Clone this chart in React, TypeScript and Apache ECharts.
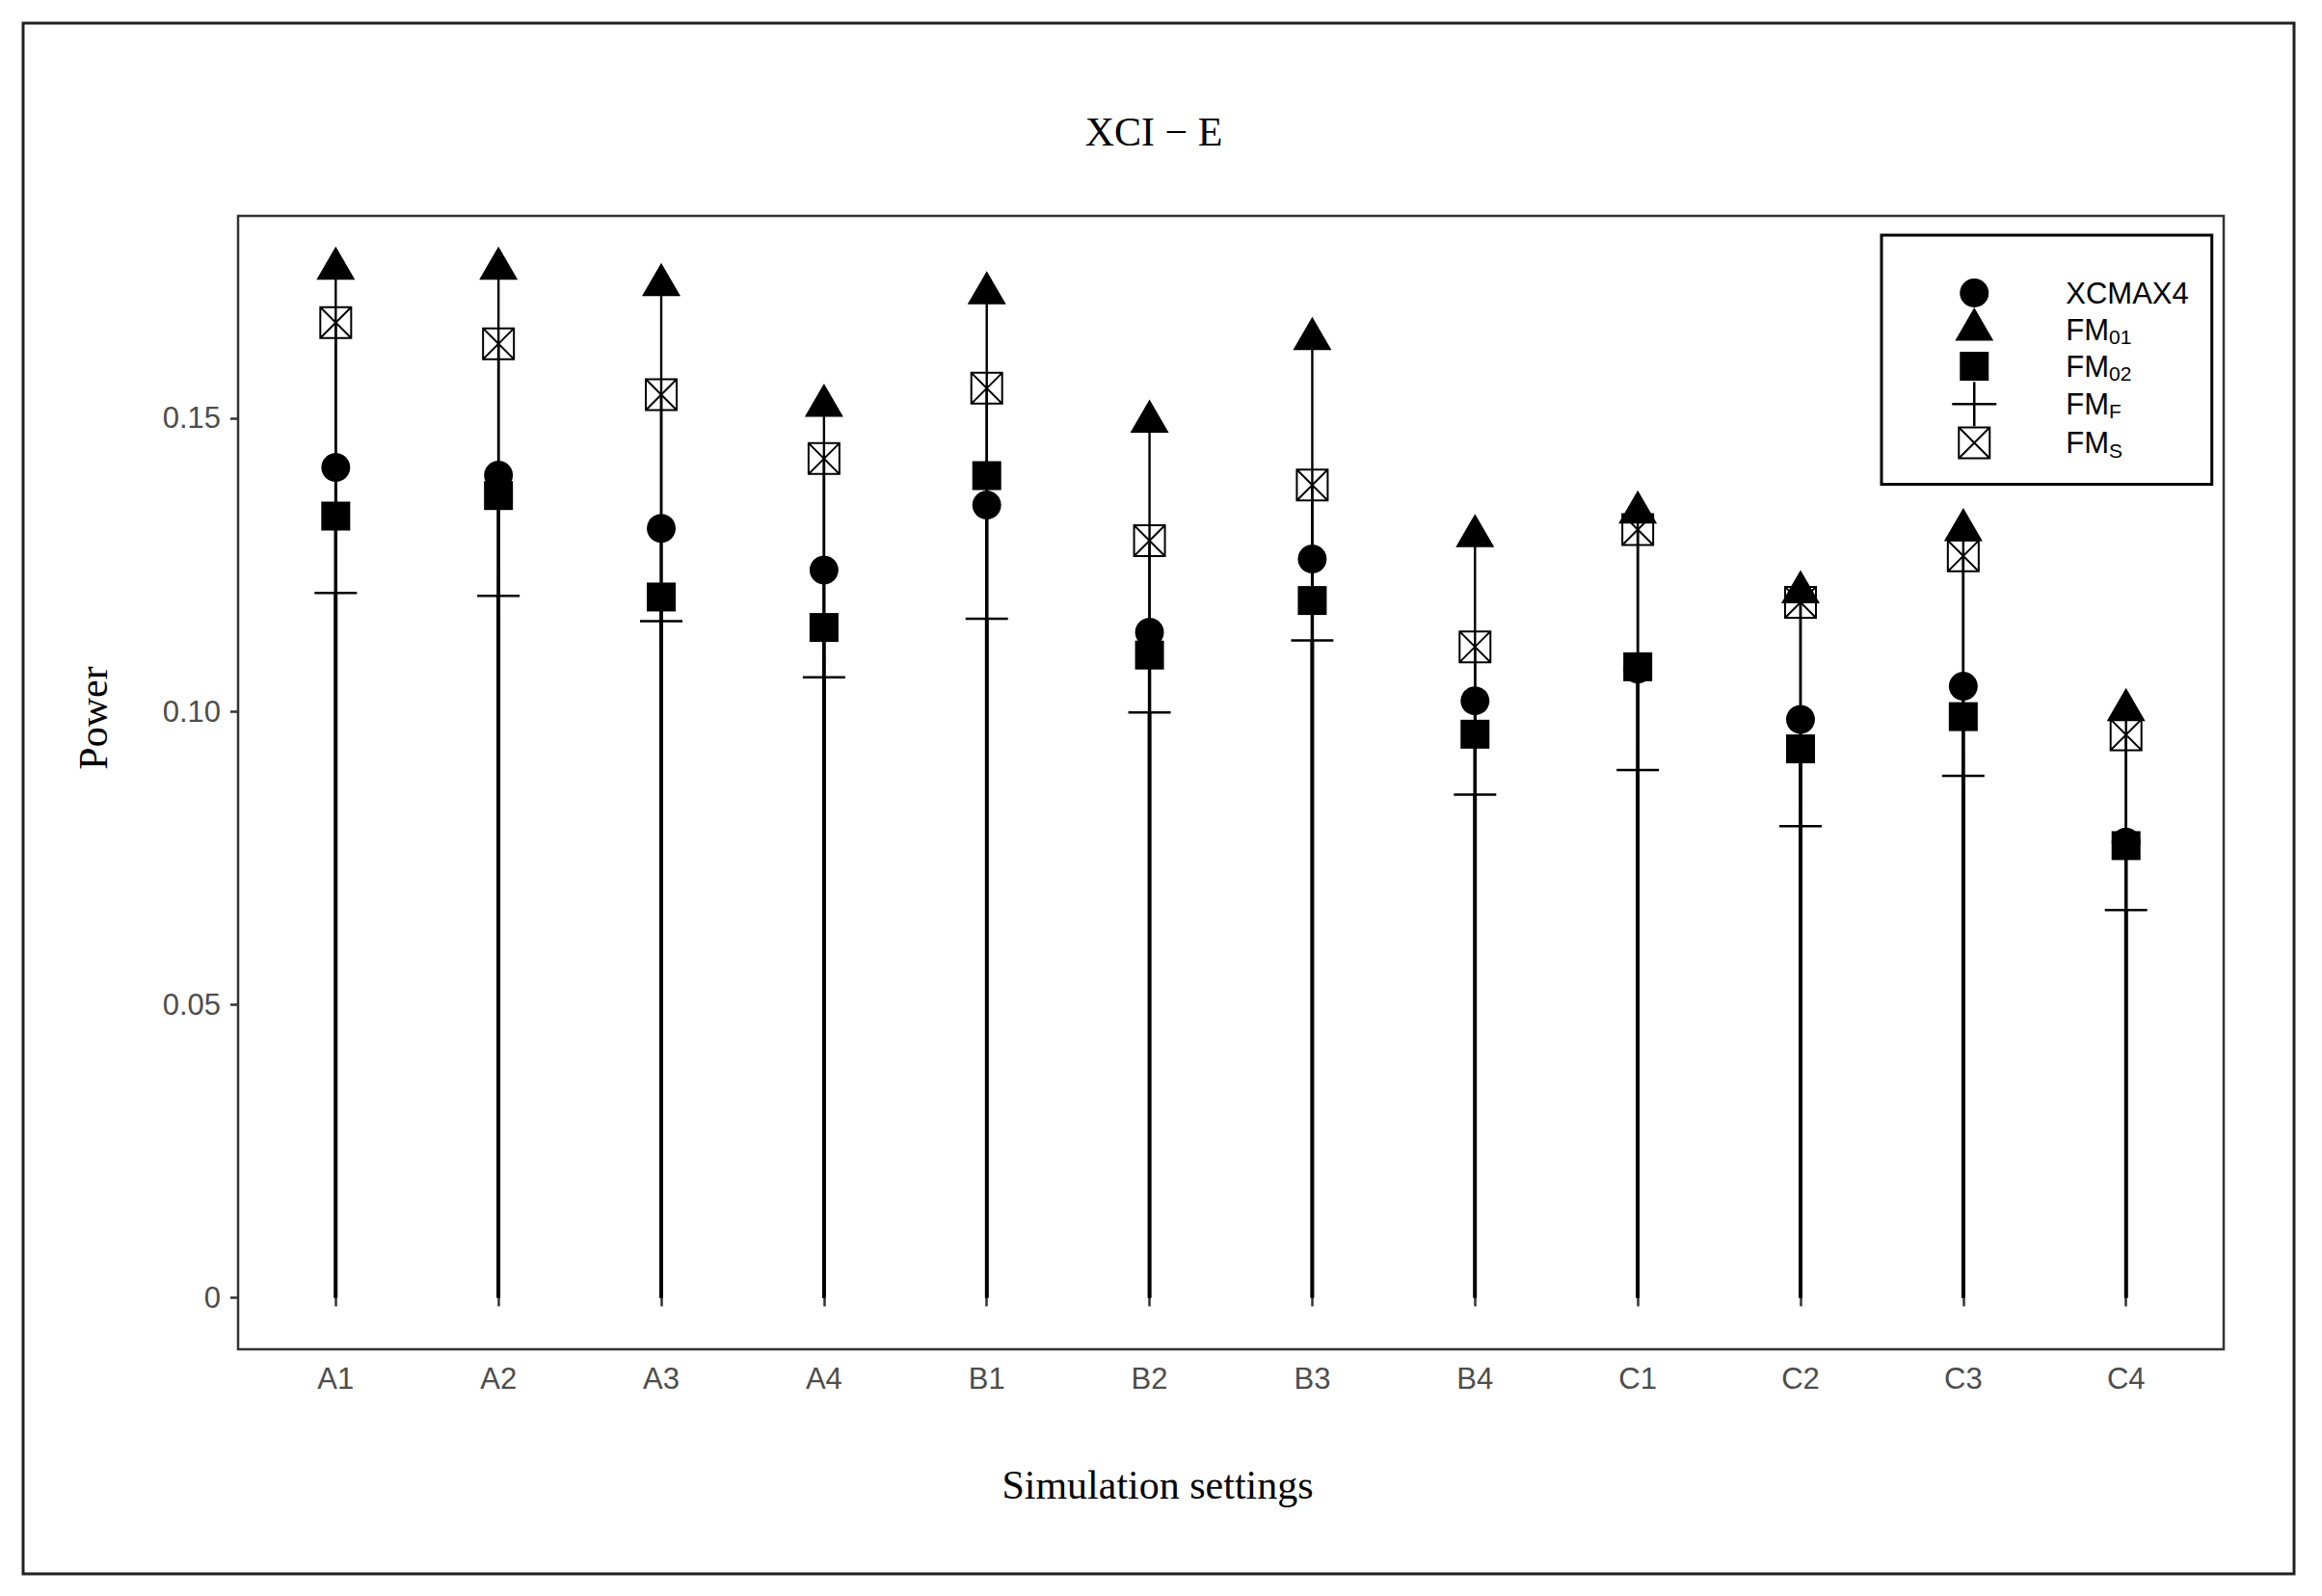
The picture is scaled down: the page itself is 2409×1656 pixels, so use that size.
import React, { useEffect, useRef } from 'react';
import * as echarts from 'echarts';

const categories = ['A1', 'A2', 'A3', 'A4', 'B1', 'B2', 'B3', 'B4', 'C1', 'C2', 'C3', 'C4'];
const xcmax4 = [0.1416, 0.1403, 0.1312, 0.1241, 0.1352, 0.1135, 0.126, 0.1018, 0.1072, 0.0986, 0.1043, 0.0777];
const fm01 = [0.1755, 0.1755, 0.1727, 0.1521, 0.1713, 0.1494, 0.1635, 0.1299, 0.1339, 0.1203, 0.1309, 0.1002];
const fm02 = [0.1333, 0.1368, 0.1195, 0.1143, 0.1402, 0.1096, 0.1189, 0.0961, 0.1076, 0.0936, 0.0991, 0.0771];
const fmF = [0.1202, 0.1197, 0.1154, 0.1058, 0.1158, 0.0998, 0.1121, 0.0858, 0.09, 0.0804, 0.089, 0.0661];
const fmS = [0.1663, 0.1627, 0.154, 0.1431, 0.1551, 0.1291, 0.1386, 0.111, 0.131, 0.1186, 0.1265, 0.096];
const yTicks = [0, 0.05, 0.1, 0.15];
const yTickLabels = ['0', '0.05', '0.10', '0.15'];
const legendLabels: Record<string, string> = {
  XCMAX4: 'XCMAX4',
  FM01: 'FM{sub|01}',
  FM02: 'FM{sub|02}',
  FMF: 'FM{sub|F}',
  FMS: 'FM{sub|S}',
};

const SERIF = '"Liberation Serif", "DejaVu Serif", serif';
const SANS = '"Liberation Sans", Arial, sans-serif';

export default function App() {
  const ref = useRef<HTMLDivElement>(null);
  useEffect(() => {
    const chart = echarts.init(ref.current as HTMLDivElement, null, { renderer: 'svg' });
    const xs = categories.map((_, i) => i + 1);
    const pts = (arr: number[]) => arr.map((v, i) => [xs[i], v]);
    const stem = (name: string, arr: number[], w: number) => ({
      type: 'custom',
      name: name + '_stem',
      coordinateSystem: 'cartesian2d',
      z: 1,
      silent: true,
      data: pts(arr),
      encode: { x: 0, y: 1 },
      renderItem: (_p: any, api: any) => {
        const x = api.value(0);
        const v = api.value(1);
        const p0 = api.coord([x, 0]);
        const p1 = api.coord([x, v]);
        return {
          type: 'line',
          shape: { x1: p0[0], y1: p0[1], x2: p1[0], y2: p1[1] },
          style: { stroke: '#000', lineWidth: w, lineCap: 'butt' },
        };
      },
    });

    const plusPath = 'path://M0 50L100 50M50 0L50 100';
    const boxXPath = 'path://M0 0L100 0L100 100L0 100Z M0 0L100 100M100 0L0 100';

    const option: any = {
      animation: false,
      backgroundColor: '#fff',
      grid: {
        left: 247,
        top: 224,
        width: 2060,
        height: 1176,
        show: true,
        borderColor: '#333',
        borderWidth: 2.5,
        backgroundColor: 'transparent',
      },
      xAxis: {
        type: 'value',
        min: 0.4,
        max: 12.6,
        axisLine: { show: false },
        splitLine: { show: false },
        axisTick: {
          show: true,
          inside: false,
          length: 9,
          lineStyle: { color: '#333', width: 2.5 },
          customValues: xs,
        },
        axisLabel: {
          customValues: xs,
          formatter: (v: number) => categories[Math.round(v) - 1] ?? '',
          color: '#4D4D4D',
          fontFamily: SANS,
          fontSize: 31,
          margin: 15,
        },
      },
      yAxis: {
        type: 'value',
        min: -0.0088,
        max: 0.1845,
        axisLine: { show: false },
        splitLine: { show: false },
        axisTick: {
          show: true,
          inside: false,
          length: 8,
          lineStyle: { color: '#333', width: 2.5 },
          customValues: yTicks,
        },
        axisLabel: {
          customValues: yTicks,
          formatter: (v: number) => {
            const i = yTicks.findIndex((t) => Math.abs(t - v) < 1e-9);
            return i >= 0 ? yTickLabels[i] : '';
          },
          color: '#4D4D4D',
          fontFamily: SANS,
          fontSize: 31,
          margin: 18,
        },
      },
      legend: {
        orient: 'vertical',
        left: 1952,
        top: 244,
        padding: [37, 24, 19, 72],
        itemWidth: 46,
        itemHeight: 46,
        itemGap: -8,
        symbolKeepAspect: true,
        selectedMode: false,
        borderColor: '#000',
        borderWidth: 3,
        backgroundColor: '#fff',
        formatter: (name: string) => '{gap| }' + (legendLabels[name] ?? name),
        textStyle: {
          color: '#000',
          fontFamily: SANS,
          fontSize: 31,
          lineHeight: 36,
          rich: {
            gap: { width: 67, fontSize: 31, lineHeight: 36 },
            sub: { color: '#000', fontFamily: SANS, fontSize: 21, lineHeight: 21, verticalAlign: 'bottom' },
          },
        },
        data: [
          {
            name: 'XCMAX4',
            icon: 'path://M0 0M46 46M8 23A15 15 0 1 1 38 23A15 15 0 1 1 8 23Z',
            itemStyle: { color: '#000', borderWidth: 0 },
          },
          {
            name: 'FM01',
            icon: 'path://M0 0M46 46M23 0L42.9 34.5L3.1 34.5Z',
            itemStyle: { color: '#000', borderWidth: 0 },
          },
          {
            name: 'FM02',
            icon: 'path://M0 0M46 46M8 8L38 8L38 38L8 38Z',
            itemStyle: { color: '#000', borderWidth: 0 },
          },
          {
            name: 'FMF',
            icon: 'path://M0 0M46 46M0 23L46 23M23 0L23 46',
            itemStyle: { color: 'rgba(0,0,0,0)', borderColor: '#000', borderWidth: 2.5 },
          },
          {
            name: 'FMS',
            icon: 'path://M0 0M46 46M7 7L39 7L39 39L7 39Z M7 7L39 39M39 7L7 39',
            itemStyle: { color: 'rgba(0,0,0,0)', borderColor: '#000', borderWidth: 2 },
          },
        ],
      },
      graphic: [
        {
          type: 'rect',
          silent: true,
          shape: { x: 24, y: 24, width: 2356, height: 1609 },
          style: { fill: 'none', stroke: '#222', lineWidth: 3 },
        },
        {
          type: 'text',
          x: 1197,
          y: 137,
          style: {
            text: 'XCI \u2212 E',
            fill: '#000',
            font: '42px ' + SERIF,
            textAlign: 'center',
            textVerticalAlign: 'middle',
            align: 'center',
            verticalAlign: 'middle',
          },
        },
        {
          type: 'text',
          x: 1201,
          y: 1541,
          style: {
            text: 'Simulation settings',
            fill: '#000',
            font: '42px ' + SERIF,
            textAlign: 'center',
            textVerticalAlign: 'middle',
            align: 'center',
            verticalAlign: 'middle',
          },
        },
        {
          type: 'text',
          x: 97,
          y: 745,
          rotation: Math.PI / 2,
          style: {
            text: 'Power',
            fill: '#000',
            font: '42px ' + SERIF,
            textAlign: 'center',
            textVerticalAlign: 'middle',
            align: 'center',
            verticalAlign: 'middle',
          },
        },
      ],
      series: [
        stem('FMF', fmF, 3.8),
        stem('FM02', fm02, 3.4),
        stem('XCMAX4', xcmax4, 3.0),
        stem('FMS', fmS, 2.6),
        stem('FM01', fm01, 2.4),
        {
          type: 'scatter',
          name: 'XCMAX4',
          z: 3,
          data: pts(xcmax4),
          symbol: 'circle',
          symbolSize: 30,
          itemStyle: { color: '#000', opacity: 1 },
        },
        {
          type: 'scatter',
          name: 'FM01',
          z: 3,
          data: pts(fm01),
          symbol: 'triangle',
          symbolSize: [40, 34.5],
          symbolOffset: [0, -5.75],
          itemStyle: { color: '#000', opacity: 1 },
        },
        {
          type: 'scatter',
          name: 'FM02',
          z: 3,
          data: pts(fm02),
          symbol: 'rect',
          symbolSize: 30,
          itemStyle: { color: '#000', opacity: 1 },
        },
        {
          type: 'scatter',
          name: 'FMF',
          z: 3,
          data: pts(fmF),
          symbol: plusPath,
          symbolSize: 44,
          itemStyle: { color: 'rgba(0,0,0,0)', borderColor: '#000', borderWidth: 2.5, opacity: 1 },
        },
        {
          type: 'scatter',
          name: 'FMS',
          z: 3,
          data: pts(fmS),
          symbol: boxXPath,
          symbolSize: 32,
          itemStyle: { color: 'rgba(0,0,0,0)', borderColor: '#000', borderWidth: 2, opacity: 1 },
        },
      ],
    };
    chart.setOption(option);
    return () => chart.dispose();
  }, []);
  return (
    <div
      ref={ref}
      style={{ position: 'absolute', left: 0, top: 0, width: 2409, height: 1656, background: '#fff' }}
    />
  );
}
